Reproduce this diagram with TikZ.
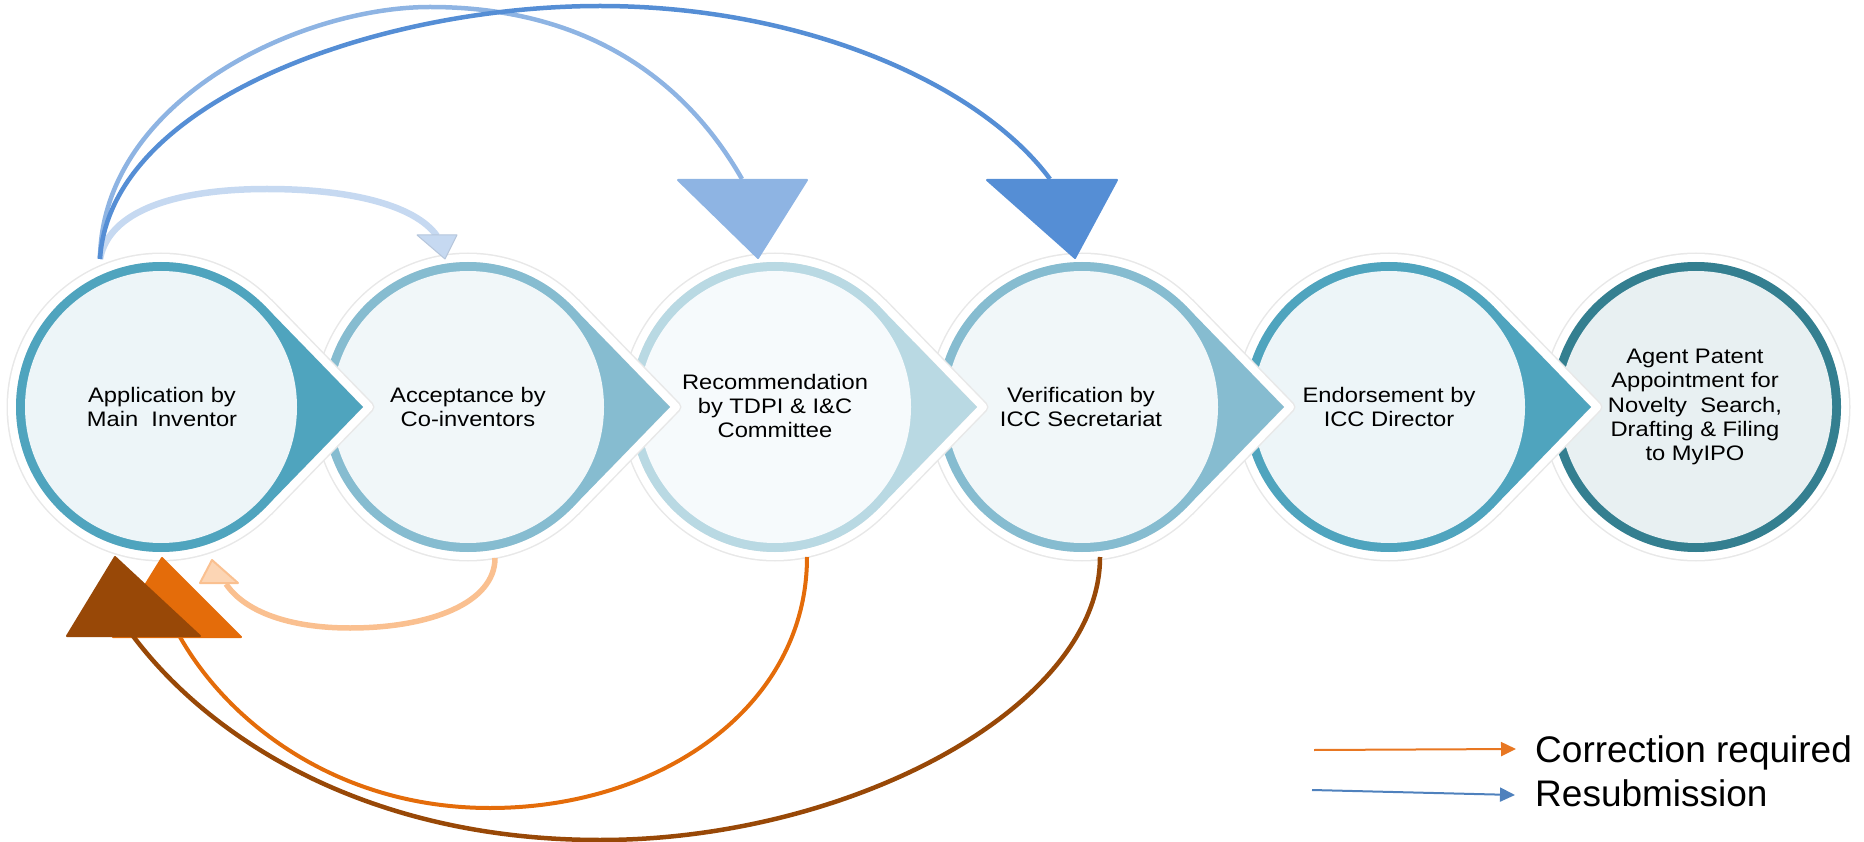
\documentclass[tikz,border=0pt]{standalone}
\usepackage{fontspec}
\setmainfont{Liberation Sans}
\newfontfamily\widefont{Liberation Sans}[FakeStretch=1.13]
\usetikzlibrary{calc,arrows.meta}
\definecolor{ringA}{HTML}{4FA4BE}
\definecolor{ringB}{HTML}{86BCD0}
\definecolor{ringC}{HTML}{B9D9E3}
\definecolor{ringD}{HTML}{347F90}
\definecolor{fillA}{HTML}{EDF5F8}
\definecolor{fillB}{HTML}{F1F7F9}
\definecolor{fillC}{HTML}{F6FAFC}
\definecolor{fillD}{HTML}{E8F0F2}
\definecolor{shadowgray}{HTML}{E8E8E8}
\definecolor{bluelight}{HTML}{C6D9F1}
\definecolor{bluemid}{HTML}{8EB4E3}
\definecolor{bluedark}{HTML}{558ED5}
\definecolor{orlight}{HTML}{FAC090}
\definecolor{orlighthead}{HTML}{FCD5B4}
\definecolor{ormid}{HTML}{E46C0A}
\definecolor{orbrown}{HTML}{984807}
\definecolor{legblue}{HTML}{4F81BD}
\definecolor{legorange}{HTML}{E87722}
\newcommand{\chevstage}[3]{%
  \draw[shadowgray, line width=11pt, line join=round] (#1) circle[radius=149pt]
     ($(#1)+(208,0)$) -- ($(#1)+(107,-104)$) -- ($(#1)+(107,104)$) -- cycle;
  \draw[white, line width=8pt, line join=round] (#1) circle[radius=149pt]
     ($(#1)+(208,0)$) -- ($(#1)+(107,-104)$) -- ($(#1)+(107,104)$) -- cycle;
  \fill[#2] (#1) circle[radius=145pt];
  \fill[#2] ($(#1)+(202,0)$) -- ($(#1)+(104,-101)$) -- ($(#1)+(104,101)$) -- cycle;
  \fill[#3] (#1) circle[radius=136pt];
}
\newcommand{\plainstage}[3]{%
  \draw[shadowgray, line width=11pt] (#1) circle[radius=149pt];
  \draw[white, line width=8pt] (#1) circle[radius=149pt];
  \fill[#2] (#1) circle[radius=145pt];
  \fill[#3] (#1) circle[radius=136pt];
}
\begin{document}
\begin{tikzpicture}[x=1pt,y=-1pt,
  lbl/.style={align=center, font=\widefont\fontsize{21pt}{24.4pt}\selectfont, inner sep=0pt},
  legtext/.style={anchor=base west, font=\fontsize{37pt}{44pt}\selectfont, inner sep=0pt},
  headtri/.style={line width=2pt, line join=round}]
\useasboundingbox (0,0) rectangle (1864,842);
% stage centres
\coordinate (p1) at (161,407);
\coordinate (p2) at (468,407);
\coordinate (p3) at (775,407);
\coordinate (p4) at (1082,407);
\coordinate (p5) at (1389,407);
\coordinate (p6) at (1696,407);
% stages, drawn right to left
\plainstage{p6}{ringD}{fillD}
\chevstage{p5}{ringA}{fillA}
\chevstage{p4}{ringB}{fillB}
\chevstage{p3}{ringC}{fillC}
\chevstage{p2}{ringB}{fillB}
\chevstage{p1}{ringA}{fillA}
% labels
\node[lbl] (n1) at (162,407) {Application by\\Main~ Inventor};
\node[lbl] (n2) at (468,407) {Acceptance by\\Co-inventors};
\node[lbl] (n3) at (775,406) {Recommendation\\by TDPI \& I\&C\\Committee};
\node[lbl] (n4) at (1081,407) {Verification by\\ICC Secretariat};
\node[lbl] (n5) at (1389,407) {Endorsement by\\ICC Director};
\node[lbl] (n6) at (1695,407) {Agent Patent\\Appointment for\\Novelty~ Search,\\Drafting \& Filing\\to MyIPO};
% resubmission arcs (blue)
\coordinate (bs) at (100,259);
\coordinate (b1e) at (437,236);
\coordinate (b2e) at (742,179);
\coordinate (b3e) at (1050,179);
\draw[bluelight, line width=6.5pt] (bs) .. controls (110,205) and (190,189) .. (267,189)
   .. controls (350,189) and (415,205) .. (b1e);
\filldraw[draw=bluelight!90!black!95, fill=bluelight, line width=1pt, line join=round] (417,235) -- (457,235) -- (445,259) -- cycle;
\draw[bluemid, line width=4.5pt] (bs) .. controls (102,100) and (300,7) .. (430,7)
   .. controls (580,7) and (682,74) .. (b2e);
\filldraw[bluemid, headtri] (678,180) -- (807,180) -- (758,258) -- cycle;
\draw[bluedark, line width=4.5pt] (bs) .. controls (110,100) and (380,6) .. (600,6)
   .. controls (800,6) and (978,82) .. (b3e);
\filldraw[bluedark, headtri] (987,180) -- (1117,180) -- (1075,258) -- cycle;
% correction arcs (orange)
\coordinate (o1s) at (495,558);
\coordinate (o1e) at (226,584);
\coordinate (o2s) at (807,557);
\coordinate (o2e) at (180,637);
\coordinate (o3s) at (1100,557);
\coordinate (o3e) at (133,636);
\draw[orlight, line width=5.5pt] (o1s) .. controls (495,603) and (430,628) .. (350,628)
   .. controls (290,628) and (245,612) .. (o1e);
\filldraw[draw=orlight, fill=orlighthead, line width=2pt, line join=round] (212,560) -- (238,583) -- (200,583) -- cycle;
\draw[ormid, line width=4pt] (o2s) .. controls (807,707) and (660,808) .. (490,808)
   .. controls (340,808) and (230,725) .. (o2e);
\filldraw[ormid, headtri] (162,558) -- (241,637) -- (113,637) -- cycle;
\draw[orbrown, line width=4.5pt] (o3s) .. controls (1100,707) and (850,840) .. (600,840)
   .. controls (370,840) and (212,741) .. (o3e);
\filldraw[orbrown, headtri] (115,557) -- (200,636) -- (67,636) -- cycle;
% legend
\coordinate (lo1) at (1314,750);
\coordinate (lo2) at (1516,749);
\coordinate (lb1) at (1312,790);
\coordinate (lb2) at (1515,795);
\draw[legorange, line width=2pt, -{Triangle[length=15pt,width=14pt]}] (lo1) -- (lo2);
\draw[legblue, line width=2pt, -{Triangle[length=15pt,width=14pt]}] (lb1) -- (lb2);
\node[legtext] (lt1) at (1535,762) {Correction required};
\node[legtext] (lt2) at (1535,806) {Resubmission};
\end{tikzpicture}
\end{document}
